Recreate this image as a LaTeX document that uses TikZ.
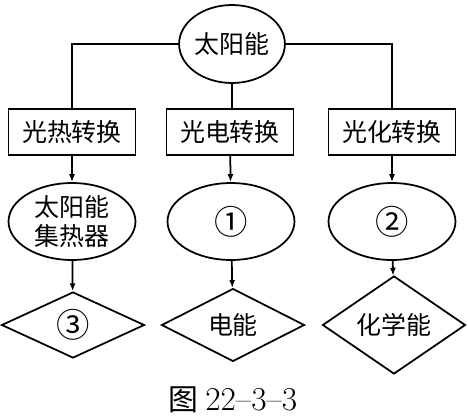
\documentclass[tikz,border=0pt]{standalone}
\usepackage{fontspec}
\newfontfamily\cjk{Noto Sans CJK SC}
\usetikzlibrary{arrows.meta,shapes.geometric}

\begin{document}
\begin{tikzpicture}[x=0.02cm,y=-0.02cm,line width=1pt,
		every node/.style={font=\cjk\fontsize{14.2}{16}\selectfont},
		conv/.style={draw,rectangle,minimum width=2.54cm,minimum height=0.92cm,inner sep=0pt},
		device/.style={draw,ellipse,minimum width=2.54cm,minimum height=1.54cm,inner sep=0pt,align=center},
		energy/.style={draw,diamond,minimum width=2.86cm,minimum height=1.32cm,inner sep=0pt},
		flow/.style={-{Latex[length=1.6mm,width=1.2mm]}}]
				%\draw [help lines] (0,0) grid (468,417);
				\useasboundingbox (0,0) rectangle (468,417);
				\node [draw,ellipse,minimum width=1.84cm,minimum height=1.56cm,inner sep=0pt] (sun) at (232,44) {太阳能};
				\node [conv] (heat) at (72,132) {光热转换};
				\node [conv] (elec) at (230,132) {光电转换};
				\node [conv] (chem) at (392,132) {光化转换};
				\node [device] (collector) at (72,221.5) {太阳能\\集热器};
				\node [device] (cell) at (231,221.5) {\fontsize{19}{20}\selectfont ①};
				\node [device] (reactor) at (392,221.5) {\fontsize{19}{20}\selectfont ②};
				\node [energy] (heatout) at (73,325) {\fontsize{19}{20}\selectfont ③};
				\node [energy] (power) at (233,325) {电能};
				\node [energy] (chemical) at (394,325) {化学能};
				\node (caption) at (233,400) {\fontsize{17}{18}\selectfont 图 {\rmfamily\fontsize{19}{20}\selectfont 22–3–3}};
				\draw (sun.west) -| (heat.north);
				\draw (sun.east) -| (chem.north);
				\draw (sun.south) -- (sun.south |- elec.north);
				\draw [flow] (heat) -- (collector);
				\draw [flow] (elec) -- (cell);
				\draw [flow] (chem) -- (reactor);
				\draw [flow] (collector) -- (heatout);
				\draw [flow] (cell) -- (power);
				\draw [flow] (reactor) -- (chemical);
		\end{tikzpicture}
\end{document}
